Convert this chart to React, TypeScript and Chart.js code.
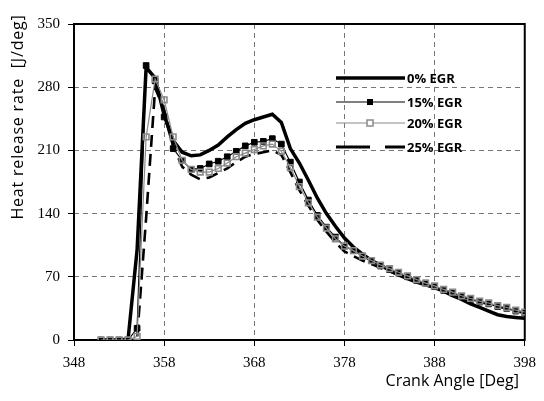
import React, { useEffect, useRef } from 'react';
import { Chart, registerables } from 'chart.js';

Chart.register(...registerables);

const angles = [351, 352, 353, 354, 355, 356, 357, 358, 359, 360, 361, 362, 363, 364, 365, 366, 367, 368, 369, 370, 371, 372, 373, 374, 375, 376, 377, 378, 379, 380, 381, 382, 383, 384, 385, 386, 387, 388, 389, 390, 391, 392, 393, 394, 395, 396, 397, 398];

const egr0 = [0, 0, 0, 1, 100, 302, 290, 249, 221, 208, 204, 205, 210, 216, 225, 233, 240, 244, 247, 250, 241, 212, 196, 177, 157, 140, 126, 113, 103, 95, 88, 83, 77, 72, 68, 64, 61, 58, 54, 49, 45, 40, 36, 32, 28, 26, 25, 24];
const egr15 = [0, 0, 0, 0, 13, 304, 287, 247, 212, 199, 189, 190, 195, 198, 203, 209, 215, 219, 220, 223, 217, 197, 175, 155, 138, 125, 114, 104, 99, 93, 88, 82, 78, 74, 70, 66, 63, 59, 55, 52, 48, 45, 42, 40, 37, 35, 32, 30];
const egr20 = [0, 0, 0, 0, 4, 225, 289, 266, 225, 199, 189, 186, 186, 190, 196, 203, 207, 211, 215, 217, 209, 191, 170, 152, 136, 124, 112, 104, 99, 93, 88, 83, 79, 75, 71, 67, 63, 60, 56, 53, 49, 46, 43, 41, 38, 36, 33, 31];
const egr25 = [0, 0, 0, 0, 2, 135, 279, 255, 215, 192, 183, 178, 180, 185, 190, 197, 203, 206, 208, 210, 205, 186, 166, 149, 133, 120, 108, 98, 93, 88, 84, 80, 76, 72, 69, 65, 62, 58, 55, 52, 48, 45, 42, 40, 37, 35, 32, 30];

const xTicks = [348, 358, 368, 378, 388, 398];
const yTicks = [0, 70, 140, 210, 280, 350];
const seriesLabels = ['0% EGR', '15% EGR', '20% EGR', '25% EGR'];
const xTitle = 'Crank Angle [Deg]';
const yTitle = 'Heat release rate  [J/deg]';

const GRAY = '#8a8a8a';

const toPoints = (vals: number[]) => angles.map((a, i) => ({ x: a, y: vals[i] }));

const framePlugin = {
  id: 'frame',
  beforeDatasetsDraw(chart: any) {
    const { ctx, chartArea: a } = chart;
    ctx.save();
    ctx.strokeStyle = '#000';
    ctx.lineWidth = 2;
    ctx.setLineDash([]);
    ctx.strokeRect(a.left, a.top, a.right - a.left, a.bottom - a.top);
    ctx.restore();
  },
};

const decorPlugin = {
  id: 'decor',
  afterDraw(chart: any) {
    const { ctx } = chart;
    ctx.save();
    // axis titles
    ctx.fillStyle = '#000';
    ctx.font = '16px "Open Sans"';
    ctx.textBaseline = 'middle';
    ctx.textAlign = 'right';
    ctx.fillText(xTitle, 519, 381);
    ctx.save();
    ctx.translate(18, 117);
    ctx.rotate(-Math.PI / 2);
    ctx.textAlign = 'center';
    (ctx as any).letterSpacing = '0.8px';
    ctx.fillText(yTitle, 0, 0);
    ctx.restore();

    // legend
    const rows = [78, 102, 123, 147];
    const x0 = 336;
    const x1 = 405;
    const mx = 370;
    ctx.font = 'bold 13px "Open Sans"';
    ctx.textAlign = 'left';
    rows.forEach((y, i) => {
      ctx.save();
      ctx.beginPath();
      if (i === 0) {
        ctx.strokeStyle = '#000';
        ctx.lineWidth = 3.5;
      } else if (i === 1) {
        ctx.strokeStyle = '#000';
        ctx.lineWidth = 1.2;
      } else if (i === 2) {
        ctx.strokeStyle = GRAY;
        ctx.lineWidth = 1.2;
      } else {
        ctx.strokeStyle = '#000';
        ctx.lineWidth = 2.8;
        ctx.setLineDash([34, 15]);
      }
      ctx.moveTo(x0, y);
      ctx.lineTo(x1, y);
      ctx.stroke();
      ctx.setLineDash([]);
      if (i === 1) {
        ctx.fillStyle = '#000';
        ctx.fillRect(mx - 3, y - 3, 6, 6);
      } else if (i === 2) {
        ctx.fillStyle = '#fff';
        ctx.fillRect(mx - 3, y - 3, 6, 6);
        ctx.strokeStyle = GRAY;
        ctx.lineWidth = 1.5;
        ctx.strokeRect(mx - 3, y - 3, 6, 6);
      }
      ctx.restore();
      ctx.fillStyle = '#000';
      ctx.fillText(seriesLabels[i], 407, y + 1);
    });
    ctx.restore();
  },
};

export default function App() {
  const ref = useRef<HTMLCanvasElement | null>(null);

  useEffect(() => {
    if (!ref.current) return;
    const edgeColor = (ctx: any) => {
      const n = ctx.scale && ctx.scale.ticks ? ctx.scale.ticks.length : 0;
      if (ctx.index === 0 || ctx.index === n - 1) return 'rgba(0,0,0,0)';
      return '#777';
    };
    const chart = new Chart(ref.current, {
      type: 'line',
      data: {
        datasets: [
          {
            label: seriesLabels[0],
            data: toPoints(egr0),
            borderColor: '#000',
            borderWidth: 3.5,
            pointRadius: 0,
            tension: 0,
            order: 3,
          },
          {
            label: seriesLabels[1],
            data: toPoints(egr15),
            borderColor: '#000',
            borderWidth: 1.2,
            pointStyle: 'rect',
            pointRadius: 4,
            pointBackgroundColor: '#000',
            pointBorderColor: '#000',
            pointBorderWidth: 1,
            tension: 0,
            order: 1,
          },
          {
            label: seriesLabels[2],
            data: toPoints(egr20),
            borderColor: GRAY,
            borderWidth: 1.2,
            pointStyle: 'rect',
            pointRadius: 4,
            pointBackgroundColor: 'rgba(255,255,255,0)',
            pointBorderColor: GRAY,
            pointBorderWidth: 1.6,
            tension: 0,
            order: 0,
          },
          {
            label: seriesLabels[3],
            data: toPoints(egr25),
            borderColor: '#000',
            borderWidth: 2.6,
            borderDash: [12, 7],
            pointRadius: 0,
            tension: 0,
            order: 2,
          },
        ],
      },
      options: {
        animation: false,
        responsive: false,
        devicePixelRatio: 1,
        events: [],
        layout: { padding: { left: 0, top: 24, right: 13, bottom: 0 } },
        plugins: {
          legend: { display: false },
          tooltip: { enabled: false },
          title: { display: false },
        },
        scales: {
          x: {
            type: 'linear',
            min: 348,
            max: 398,
            afterBuildTicks: (s: any) => {
              s.ticks = xTicks.map((v) => ({ value: v }));
            },
            afterFit: (s: any) => {
              s.height = 61;
            },
            grid: {
              color: edgeColor,
              lineWidth: 1,
              tickLength: 6,
              tickColor: '#000',
              tickWidth: 1,
              tickBorderDash: [],
            },
            border: { display: false, dash: [5, 4] },
            ticks: {
              color: '#000',
              font: { family: '"Liberation Serif"', size: 15 },
              padding: 8,
              maxRotation: 0,
              autoSkip: false,
              callback: (v: any) => String(v),
            },
          },
          y: {
            type: 'linear',
            min: 0,
            max: 350,
            afterBuildTicks: (s: any) => {
              s.ticks = yTicks.map((v) => ({ value: v }));
            },
            afterFit: (s: any) => {
              s.width = 74;
            },
            grid: {
              color: edgeColor,
              lineWidth: 1,
              tickLength: 6,
              tickColor: '#000',
              tickWidth: 1,
              tickBorderDash: [],
            },
            border: { display: false, dash: [5, 4] },
            ticks: {
              color: '#000',
              font: { family: '"Liberation Serif"', size: 15 },
              padding: 8,
              autoSkip: false,
              callback: (v: any) => String(v),
            },
          },
        },
      },
      plugins: [framePlugin, decorPlugin],
    });
    return () => chart.destroy();
  }, []);

  return (
    <div style={{ position: 'fixed', left: 0, top: 0, width: 544, height: 401, background: '#fff' }}>
      <canvas ref={ref} width={544} height={401} style={{ width: 544, height: 401, display: 'block' }} />
    </div>
  );
}
